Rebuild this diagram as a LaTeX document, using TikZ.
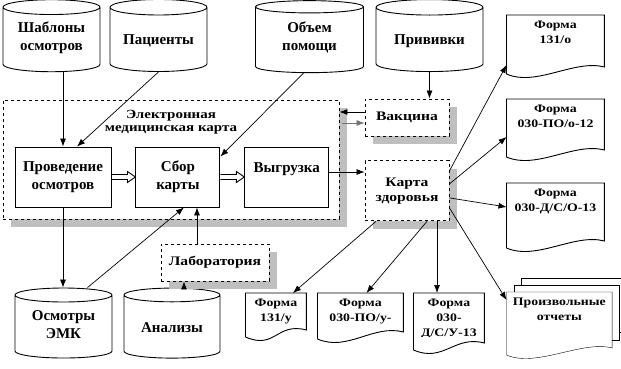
\documentclass[tikz,border=0pt]{standalone}
\usepackage{fontspec}
\setmainfont{Liberation Serif}
\newfontfamily\widefont[FakeStretch=1.2]{Liberation Serif}
\usetikzlibrary{shapes,arrows.meta,positioning,calc,shadows,backgrounds}
% document outline with a wavy bottom: node, body height
\newcommand{\docwave}[2]{%
  \draw (#1.north west) -- (#1.north east) -- ($(#1.north east)+(0,#2)$)
    .. controls +(-30,-8) and +(30,13) .. ($(#1.north west)+(0,#2+7)$) -- cycle;}
\newcommand{\hollowarrow}[2]{%
  \draw ($(#1.east)+(0,-2.5)$) -- ($(#2.west)+(-8,-2.5)$) -- ($(#2.west)+(-8,-5.5)$)
    -- (#2.west) -- ($(#2.west)+(-8,5.5)$) -- ($(#2.west)+(-8,2.5)$) -- ($(#1.east)+(0,2.5)$);}

\begin{document}
\begin{tikzpicture}[x=1pt, y=-1pt, line width=0.9pt,
  cyl/.style={cylinder, shape border rotate=90, draw, aspect=0.2, minimum width=97pt, minimum height=72pt, align=center, font=\fontsize{15}{18}\selectfont\bfseries},
  cyltwo/.style={cyl, text height=22pt},
  block/.style={rectangle, draw, fill=white, minimum width=84pt, minimum height=60pt, align=center, font=\fontsize{15}{18}\selectfont\bfseries},
  dblock/.style={rectangle, draw, dashed, fill=white, align=center, drop shadow={shadow xshift=8pt, shadow yshift=-8pt, fill=black!25, opacity=1}, font=\widefont\fontsize{13}{15}\selectfont\bfseries},
  doc/.style={anchor=north west, inner sep=6pt, align=center, font=\widefont\fontsize{11.5}{15}\selectfont\bfseries},
  arrow/.style={line width=0.7pt, -{Latex[length=8pt,width=6pt]}}
]
\useasboundingbox (0,0) rectangle (621,368);

% databases
\node[cyltwo] (sab) at (51.5,41) {Шаблоны\\осмотров};
\node[cyl] (pac) at (158.5,41) {Пациенты};
\node[cyltwo, minimum width=108pt] (obj) at (309.5,41) {Объем\\помощи};
\node[cyl, minimum width=107pt] (priv) at (429.5,41) {Прививки};
\node[cyltwo, minimum height=70pt] (osm) at (63.5,328) {Осмотры\\ЭМК};
\node[cyl, minimum height=70pt, minimum width=96pt] (anal) at (172,328) {Анализы};

% electronic card
\node[dblock, minimum width=336pt, minimum height=119pt] (emk) at (171,159.5) {};
\node[font=\widefont\fontsize{12.5}{13}\selectfont\bfseries, align=center] (emktitle) at (171,122) {Электронная\\медицинская карта};
\node[block, minimum width=96pt] (prov) at (63,177) {Проведение\\осмотров};
\node[block, right=24pt of prov] (sbor) {Сбор\\карты};
\node[block, right=24pt of sbor] (vyg) {Выгрузка\\~};
\hollowarrow{prov}{sbor}
\hollowarrow{sbor}{vyg}

\node[dblock, minimum width=84pt, minimum height=37pt] (vac) at (407,117.5) {Вакцина};
\node[dblock, minimum width=84pt, minimum height=60pt, below=24pt of vac] (kz) {Карта\\здоровья};
\node[dblock, minimum width=108pt, minimum height=37pt] (lab) at (215,262.5) {Лаборатория};

% forms
\node[doc, minimum width=97pt] (f1) at (506.5,15) {Форма\\131/о};
\docwave{f1}{52}
\node[doc, minimum width=97pt] (f2) at (506.5,99) {Форма\\030-ПО/о-12};
\docwave{f2}{51}
\node[doc, minimum width=97pt] (f3) at (506.5,183) {Форма\\030-Д/С/О-13};
\docwave{f3}{58}
\node[doc, minimum width=60pt] (f4) at (245.5,293) {Форма\\131/у};
\docwave{f4}{37}
\node[doc, minimum width=85pt] (f5) at (317.5,293) {Форма\\030-ПО/у-};
\docwave{f5}{39}
\begin{scope}
\clip (413,290) rectangle (483,336.5);
\node[doc, minimum width=70pt] (f6) at (413.5,293) {Форма\\030-\\Д/С/У-13};
\end{scope}
\docwave{f6}{50}
\node[doc, minimum width=97pt] (f7) at (506.5,292) {Произвольные\\отчеты};
\begin{pgfonlayer}{background}
\draw[fill=white] ($(f7.north west)+(15,-14)$) rectangle ($(f7.north east)+(15,40)$);
\draw[fill=white] ($(f7.north west)+(7.5,-7)$) rectangle ($(f7.north east)+(7.5,48)$);
\fill[white] (f7.north west) rectangle ($(f7.north east)+(0,56)$);
\end{pgfonlayer}
\docwave{f7}{56}

% connections
\draw[arrow] (prov.north |- sab.south) -- (prov.north);
\draw[arrow] (pac.south) -- ([xshift=14pt]prov.north);
\draw[arrow] ([xshift=-6pt]obj.south) -- ([yshift=-10pt]sbor.north east);
\draw[arrow] (prov.south) -- (prov.south |- osm.north);
\draw[arrow] ([xshift=24pt]osm.north) -- ([xshift=6pt]sbor.south);
\draw[arrow] ([xshift=-18pt]lab.north) -- ([xshift=-18pt]lab.north |- sbor.south);
\draw[arrow] ([xshift=12pt]anal.north) -- ([xshift=12pt]anal.north |- lab.south);
\draw[arrow] (priv.south) -- (priv.south |- vac.north);
\draw[arrow] ([yshift=5.5pt]vac.west) -- ([yshift=5.5pt]vac.west -| emk.east);
\draw[arrow, black!55] ([xshift=3pt,yshift=-5.5pt]vac.west -| emk.east) -- ([yshift=-5.5pt]vac.west);
\draw[arrow] ([yshift=5pt]vyg.east) -- ([yshift=5pt]vyg.east -| kz.west);
\draw[arrow] ([yshift=20pt]kz.east) -- ($(f1.north west)+(0,50)$);
\draw[arrow] ([yshift=7pt]kz.east) -- ($(f2.north west)+(0,38)$);
\draw[arrow] ([yshift=-7pt]kz.east) -- ($(f3.north west)+(0,24)$);
\draw[arrow] ([yshift=-17pt]kz.east) -- ($(f7.north west)+(0,8)$);
\draw[arrow] ([xshift=-31pt]kz.south) -- ([xshift=17pt]f4.north);
\draw[arrow] ([xshift=20pt]kz.south) -- ([xshift=6pt]f5.north);
\draw[arrow] ([xshift=30pt]kz.south) -- ([xshift=30pt]kz.south |- f6.north);
\end{tikzpicture}
\end{document}
